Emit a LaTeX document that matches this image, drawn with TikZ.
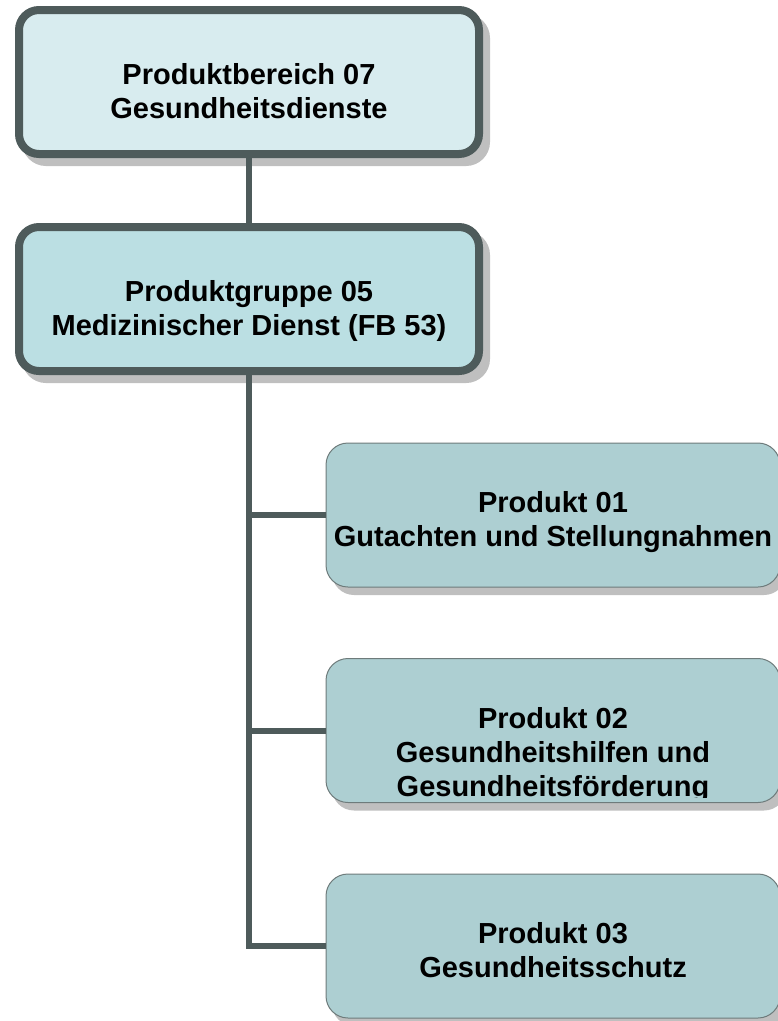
\documentclass[tikz,border=0pt]{standalone}
\usepackage{fontspec}
\setmainfont{Liberation Sans}
\usetikzlibrary{shadows}
\definecolor{rahmen}{HTML}{4E5B5B}
\definecolor{bereichfill}{HTML}{D8ECEF}
\definecolor{gruppefill}{HTML}{BBDFE3}
\definecolor{produktfill}{HTML}{ADCFD2}
\definecolor{produktrand}{HTML}{6E7B7B}
\tikzset{
  obenbox/.style={draw=rahmen, line width=8pt, rounded corners=20pt,
    minimum width=460pt, minimum height=144pt, inner sep=0pt,
    drop shadow={shadow xshift=7pt, shadow yshift=-8pt, fill=black!25,
      draw=black!25, line width=8pt, opacity=1}},
  produktbox/.style={draw=produktrand, line width=1pt, fill=produktfill,
    rounded corners=22pt, minimum width=454pt, minimum height=144pt, inner sep=0pt,
    drop shadow={shadow xshift=6pt, shadow yshift=-8pt, fill=black!25, opacity=1}},
  beschriftung/.style={font=\bfseries\fontsize{29}{34}\selectfont, align=center,
    inner sep=0pt, anchor=north},
  verbinder/.style={draw=rahmen, line width=6pt}
}

\begin{document}
\begin{tikzpicture}[x=1pt, y=-1pt]
			%%%%% START %%%%%
			\useasboundingbox (0, 0) rectangle (778, 1021);

			\node[obenbox, fill=bereichfill] (bereich) at (249, 82) {};
			\node[obenbox, fill=gruppefill] (gruppe) at (249, 299) {};

			\node[produktbox] (prod1) at (553, 515) {};
			\node[produktbox] (prod2) at (553, 730.5) {};
			\node[produktbox] (prod3) at (553, 946) {};

			\draw[verbinder] (bereich) -- (gruppe);
			\draw[verbinder] (gruppe) |- (prod3);
			\draw[verbinder] (gruppe.south |- prod1.west) -- (prod1);
			\draw[verbinder] (gruppe.south |- prod2.west) -- (prod2);

			\node[beschriftung] (tbereich) at ([yshift=-57pt]bereich.north) {Produktbereich 07\\Gesundheitsdienste};
			\node[beschriftung] (tgruppe) at ([yshift=-57pt]gruppe.north) {Produktgruppe 05\\Medizinischer Dienst (FB 53)};
			\node[beschriftung] (tprod1) at ([yshift=-49pt]prod1.north) {Produkt 01\\Gutachten und Stellungnahmen};
			\begin{scope}
				\clip (prod2.north west) rectangle ([yshift=6pt]prod2.south east);
				\node[beschriftung] (tprod2) at ([yshift=-49pt]prod2.north) {Produkt 02\\Gesundheitshilfen und\\Gesundheitsförderung};
			\end{scope}
			\node[beschriftung] (tprod3) at ([yshift=-49pt]prod3.north) {Produkt 03\\Gesundheitsschutz};

			%%%%% END %%%%%
\end{tikzpicture}
\end{document}
